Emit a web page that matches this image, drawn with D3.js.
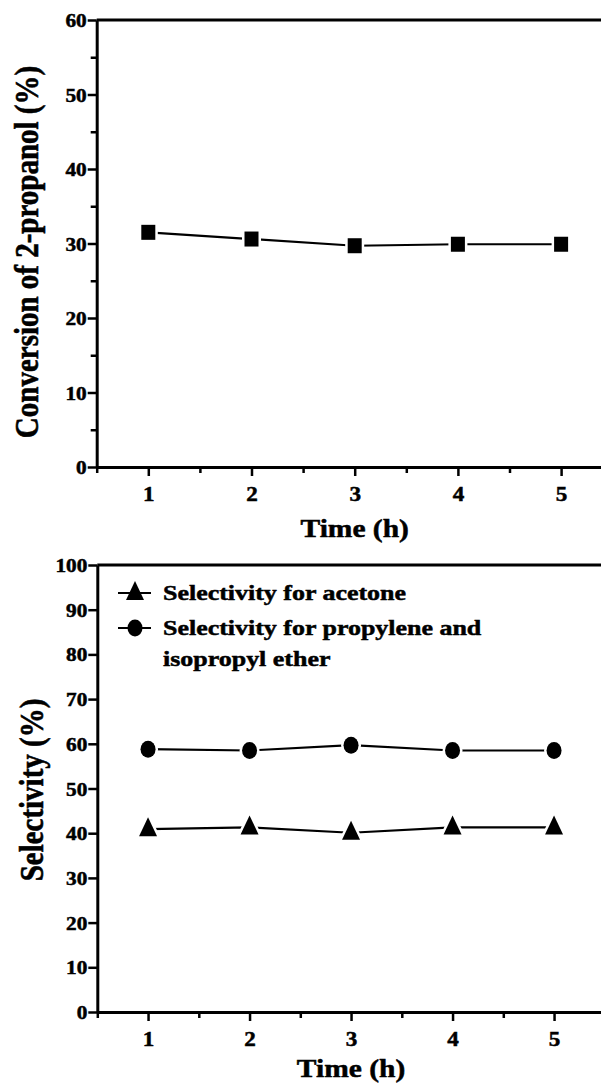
<!DOCTYPE html>
<html>
<head>
<meta charset="utf-8">
<script src="https://cdn.jsdelivr.net/npm/d3@7"></script>
<style>
  body { margin: 0; background: #fff; }
  svg { display: block; }
  text { font-family: "Liberation Serif", "Times New Roman", serif; font-weight: bold; fill: #000; stroke: #000; stroke-width: 0.5px; }
</style>
</head>
<body>
<svg width="601" height="1084"></svg>
<script>
// data
const time = [1, 2, 3, 4, 5]
const conversion = [31.5, 30.6, 29.7, 29.9, 29.9]
const acetone = [40.9, 41.3, 40.1, 41.3, 41.3]
const propylene = [58.8, 58.5, 59.7, 58.5, 58.5]

const xTicks = [1, 2, 3, 4, 5]
const xMinor = [0.5, 1.5, 2.5, 3.5, 4.5, 5.5]
const topYTicks = [0, 10, 20, 30, 40, 50, 60]
const topYMinor = [5, 15, 25, 35, 45, 55]
const botYTicks = [0, 10, 20, 30, 40, 50, 60, 70, 80, 90, 100]

const legendLabels = ["Selectivity for acetone", "Selectivity for propylene and", "isopropyl ether"]

const svg = d3.select("svg")
const stretch = 1.18   // the figure's lettering is a bit wide

function trianglePath() {
    return "M0,-12L9,7L-9,7Z"
}

function drawPanel(opts) {
    const x = d3.scaleLinear().domain([0.5, 5.5]).range(opts.xr)
    const y = d3.scaleLinear().domain(opts.yd).range(opts.yr)
    const g = svg.append("g")

    // top and right border
    g.append("line")
        .attr("x1", opts.xr[0]).attr("x2", opts.xr[1])
        .attr("y1", opts.yr[1]).attr("y2", opts.yr[1])
        .attr("stroke", "#000").attr("stroke-width", 3)
    g.append("line")
        .attr("x1", opts.xr[1]).attr("x2", opts.xr[1])
        .attr("y1", opts.yr[0]).attr("y2", opts.yr[1])
        .attr("stroke", "#000").attr("stroke-width", 3)

    // minor ticks
    g.append("g").attr("transform", `translate(0,${opts.yr[0]})`)
        .call(d3.axisBottom(x).tickValues(xMinor).tickSize(6).tickFormat(""))
        .call(a => a.select(".domain").remove())
    if (opts.yMinor.length) {
        g.append("g").attr("transform", `translate(${opts.xr[0]},0)`)
            .call(d3.axisLeft(y).tickValues(opts.yMinor).tickSize(6).tickFormat(""))
            .call(a => a.select(".domain").remove())
    }

    const xa = g.append("g").attr("transform", `translate(0,${opts.yr[0]})`)
        .call(d3.axisBottom(x).tickValues(xTicks).tickSize(9).tickSizeOuter(0).tickFormat(d3.format("d")))
    xa.selectAll("text")
        .attr("y", null).attr("dy", null)
        .attr("transform", `translate(0,34) scale(1.1,1)`)
        .style("font-size", "21px")

    const ya = g.append("g").attr("transform", `translate(${opts.xr[0]},0)`)
        .call(d3.axisLeft(y).tickValues(opts.yTicks).tickSize(9).tickSizeOuter(0).tickFormat(d3.format("d")))
    ya.selectAll("text")
        .attr("x", null).attr("dy", null)
        .attr("transform", `translate(-10,6.5) scale(1.12,1)`)
        .style("font-size", "19px")

    g.selectAll(".domain").attr("stroke-width", 3)
    g.selectAll(".tick line").attr("stroke-width", 2.5)
    g.selectAll("g").attr("font-family", null).attr("font-size", null)

    // titles
    g.append("text")
        .attr("transform", `translate(${x(3)},${opts.yr[0] + opts.xTitleDy}) scale(${stretch},1)`)
        .attr("text-anchor", "middle")
        .style("font-size", "25px")
        .text("Time (h)")
    g.append("text")
        .attr("transform", `translate(${opts.yTitleX},${opts.yTitleY}) scale(${stretch},1) rotate(-90)`)
        .attr("text-anchor", "middle")
        .style("font-size", "29px")
        .text(opts.yTitle)

    return { g, x, y }
}

function drawSeries(p, values, shape) {
    const pts = time.map((t, i) => ({ x: p.x(t), y: p.y(values[i]) }))
    p.g.append("path")
        .datum(pts)
        .attr("fill", "none")
        .attr("stroke", "#000")
        .attr("stroke-width", 2.2)
        .attr("d", d3.line().x(d => d.x).y(d => d.y))
    addMarkers(p.g, pts, shape, 5)
}

function addMarkers(g, pts, shape, halo) {
    let m
    if (shape == "square") {
        m = g.selectAll(null).data(pts).enter().append("rect")
            .attr("x", d => d.x - 7).attr("y", d => d.y - 7.5)
            .attr("width", 14).attr("height", 15)
    } else if (shape == "circle") {
        m = g.selectAll(null).data(pts).enter().append("ellipse")
            .attr("cx", d => d.x).attr("cy", d => d.y)
            .attr("rx", 7.5).attr("ry", 8.5)
    } else {
        m = g.selectAll(null).data(pts).enter().append("path")
            .attr("transform", d => `translate(${d.x},${d.y})`)
            .attr("d", trianglePath())
    }
    m.attr("fill", "#000")
        .attr("stroke", halo ? "#fff" : "none")
        .attr("stroke-width", halo)
        .attr("paint-order", "stroke")
}

// top panel: conversion
const topPanel = drawPanel({
    xr: [96.7, 612.7], yd: [0, 60], yr: [467, 20],
    yTicks: topYTicks, yMinor: topYMinor,
    xTitleDy: 70, yTitleX: 38, yTitleY: 252,
    yTitle: "Conversion of 2-propanol (%)"
})
drawSeries(topPanel, conversion, "square")

// bottom panel: selectivity
const botPanel = drawPanel({
    xr: [97.3, 604.8], yd: [0, 100], yr: [1012, 565],
    yTicks: botYTicks, yMinor: [],
    xTitleDy: 65, yTitleX: 43, yTitleY: 790,
    yTitle: "Selectivity (%)"
})
drawSeries(botPanel, acetone, "triangle")
drawSeries(botPanel, propylene, "circle")

// legend
const legendRows = [
    { shape: "triangle", y: 593, label: legendLabels[0], base: 600 },
    { shape: "circle", y: 628, label: legendLabels[1], base: 635 }
]
legendRows.forEach(r => {
    botPanel.g.append("line")
        .attr("x1", 118).attr("x2", 151).attr("y1", r.y).attr("y2", r.y)
        .attr("stroke", "#000").attr("stroke-width", 2.2)
    addMarkers(botPanel.g, [{ x: 135, y: r.y }], r.shape, 0)
    botPanel.g.append("text")
        .attr("transform", `translate(163,${r.base}) scale(${stretch},1)`)
        .style("font-size", "22px")
        .text(r.label)
})
botPanel.g.append("text")
    .attr("transform", `translate(163,666) scale(${stretch},1)`)
    .style("font-size", "22px")
    .text(legendLabels[2])
</script>
</body>
</html>
